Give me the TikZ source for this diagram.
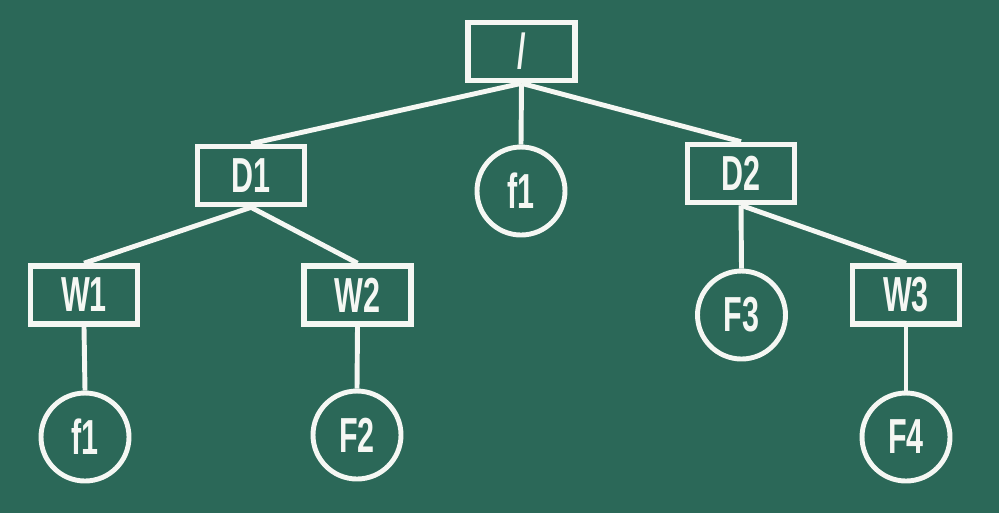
\documentclass[tikz,border=0pt]{standalone}
\usepackage{fontspec}
\usetikzlibrary{positioning}
\newfontfamily\chalkfont[FakeStretch=0.62]{Liberation Sans}
\definecolor{board}{RGB}{43,104,88}
\definecolor{chalk}{RGB}{245,247,243}

\begin{document}
\begin{tikzpicture}[
    dirbox/.style={draw=chalk, line width=1.6pt, minimum width=1.07cm, minimum height=0.58cm, inner sep=0pt, font=\chalkfont\bfseries\fontsize{14}{16}\selectfont, text=chalk},
    filenode/.style={draw=chalk, circle, line width=1.4pt, minimum size=0.88cm, inner sep=0pt, font=\chalkfont\bfseries\fontsize{14}{16}\selectfont, text=chalk},
    connector/.style={draw=chalk, line width=1.4pt}
  ]
    \fill[board] (0,0) rectangle (9.99,-5.13);
    \useasboundingbox (0,0) rectangle (9.99,-5.13);

    % Raiz
    \node[dirbox] (root) at (5.215,-0.515) {/};

    % Primeiro nivel
    \node[dirbox] (D1) at (2.51,-1.755) {D1};
    \node[filenode] (f1top) at (5.21,-1.91) {f1};
    \node[dirbox] (D2) at (7.41,-1.735) {D2};

    % Segundo nivel
    \node[dirbox] (W1) at (0.84,-2.95) {W1};
    \node[dirbox] (W2) at (3.575,-2.95) {W2};
    \node[filenode] (F3) at (7.415,-3.15) {F3};
    \node[dirbox] (W3) at (9.06,-2.95) {W3};

    % Terceiro nivel
    \node[filenode] (f1bot) at (0.85,-4.37) {f1};
    \node[filenode] (F2) at (3.57,-4.35) {F2};
    \node[filenode] (F4) at (9.06,-4.37) {F4};

    % Conectores
    \draw[connector] (root.south) -- (D1.north);
    \draw[connector] (root.south) -- (f1top.north);
    \draw[connector] (root.south) -- (D2.north);
    \draw[connector] (D1.south) -- (W1.north);
    \draw[connector] (D1.south) -- (W2.north);
    \draw[connector] (D2.south) -- (F3.north);
    \draw[connector] (D2.south) -- (W3.north);
    \draw[connector] (W1.south) -- (f1bot.north);
    \draw[connector] (W2.south) -- (F2.north);
    \draw[connector] (W3.south) -- (F4.north);
  \end{tikzpicture}
\end{document}
